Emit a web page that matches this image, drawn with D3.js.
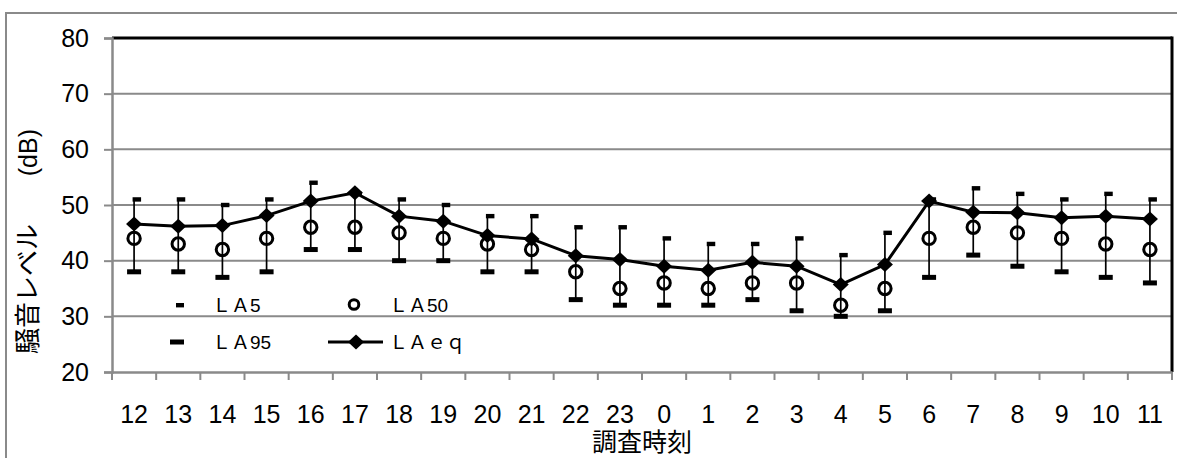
<!DOCTYPE html>
<html>
<head>
<meta charset="utf-8">
<script src="https://cdn.jsdelivr.net/npm/d3@7/dist/d3.min.js"></script>
<style>
  html, body { margin: 0; padding: 0; background: #fff; }
  svg { display: block; }
  text { font-family: "Liberation Sans", Arial, "Noto Sans CJK JP", sans-serif; fill: #000; }
</style>
</head>
<body>
<svg id="chart" width="1177" height="458"></svg>
<script>
// ---- data ----
const categories = ["12","13","14","15","16","17","18","19","20","21","22","23","0","1","2","3","4","5","6","7","8","9","10","11"];
const la5  = [51, 51, 50, 51, 54, 52, 51, 50, 48, 48, 46, 46, 44, 43, 43, 44, 41, 45, 51, 53, 52, 51, 52, 51];
const la50 = [44, 43, 42, 44, 46, 46, 45, 44, 43, 42, 38, 35, 36, 35, 36, 36, 32, 35, 44, 46, 45, 44, 43, 42];
const la95 = [38, 38, 37, 38, 42, 42, 40, 40, 38, 38, 33, 32, 32, 32, 33, 31, 30, 31, 37, 41, 39, 38, 37, 36];
const laeq = [46.6, 46.2, 46.3, 48.1, 50.7, 52.2, 48.0, 47.1, 44.5, 43.9, 40.9, 40.2, 39.0, 38.3, 39.7, 39.0, 35.7, 39.3, 50.7, 48.7, 48.6, 47.7, 48.0, 47.5];
const yTicks = [20, 30, 40, 50, 60, 70, 80];
const seriesNames = ["ＬＡ5", "ＬＡ50", "ＬＡ95", "ＬＡｅｑ"];
const xTitle = "調査時刻";
const yTitleMain = "騒音レベル";
const yTitleUnit = "(dB)";

// ---- layout ----
const svg = d3.select("#chart");
const L = 112, R = 1172, T = 38, B = 372;
const gray = "#8a8a8a";

const x = d3.scaleBand().domain(categories).range([L, R]).padding(0);
const y = d3.scaleLinear().domain([20, 80]).range([B, T]);
const cx = c => x(c) + x.bandwidth() / 2;

// outer chart border
svg.append("rect").attr("x", 6).attr("y", 13).attr("width", 1190).attr("height", 470)
  .attr("fill", "none").attr("stroke", gray).attr("stroke-width", 2);

// grid lines
svg.append("g").selectAll("line").data(yTicks.filter(v => v > 20 && v < 80)).join("line")
  .attr("x1", L).attr("x2", R).attr("y1", d => y(d)).attr("y2", d => y(d))
  .attr("stroke", gray).attr("stroke-width", 2);

// top & right frame (black)
svg.append("line").attr("x1", L).attr("x2", R).attr("y1", y(80)).attr("y2", y(80))
  .attr("stroke", "#000").attr("stroke-width", 3);
svg.append("line").attr("x1", R).attr("x2", R).attr("y1", y(80) - 1.5).attr("y2", B)
  .attr("stroke", "#000").attr("stroke-width", 3);

// y axis
const yAxis = svg.append("g").attr("transform", `translate(${L},0)`)
  .call(d3.axisLeft(y).tickValues(yTicks).tickSize(8).tickPadding(15).tickFormat(d3.format("d")));
yAxis.select(".domain").attr("stroke", gray).attr("stroke-width", 2.5);
yAxis.selectAll(".tick line").attr("stroke", gray).attr("stroke-width", 2);
yAxis.selectAll(".tick text").attr("font-size", 25).attr("font-family", "Liberation Sans, Arial, sans-serif").attr("fill", "#000");

// x axis (labels at centers, ticks at band boundaries)
const xAxis = svg.append("g").attr("transform", `translate(0,${B})`)
  .call(d3.axisBottom(x).tickSize(0).tickPadding(33));
xAxis.select(".domain").attr("stroke", gray).attr("stroke-width", 2.5);
xAxis.selectAll(".tick text").attr("font-size", 25).attr("font-family", "Liberation Sans, Arial, sans-serif").attr("fill", "#000");
const bounds = categories.map(c => x(c)).concat([R]);
svg.append("g").selectAll("line").data(bounds).join("line")
  .attr("x1", d => d).attr("x2", d => d).attr("y1", B).attr("y2", B + 8)
  .attr("stroke", gray).attr("stroke-width", 2);

// error bars (LA95 -> LA5)
svg.append("g").selectAll("line").data(categories).join("line")
  .attr("x1", (c) => cx(c)).attr("x2", (c) => cx(c))
  .attr("y1", (c, i) => y(la95[i])).attr("y2", (c, i) => y(la5[i]))
  .attr("stroke", "#000").attr("stroke-width", 1.7);

// LA95 markers (wide dash)
svg.append("g").selectAll("rect").data(categories).join("rect")
  .attr("x", c => cx(c) - 7).attr("y", (c, i) => y(la95[i]) - 2.5)
  .attr("width", 14).attr("height", 5).attr("fill", "#000");

// LA5 markers (small dash, offset right)
svg.append("g").selectAll("rect").data(categories).join("rect")
  .attr("x", c => cx(c) - 1.5).attr("y", (c, i) => y(la5[i]) - 2.2)
  .attr("width", 8.5).attr("height", 4.4).attr("fill", "#000");

// LA50 markers (open circles)
svg.append("g").selectAll("circle").data(categories).join("circle")
  .attr("cx", c => cx(c)).attr("cy", (c, i) => y(la50[i])).attr("r", 6.2)
  .attr("fill", "none").attr("stroke", "#000").attr("stroke-width", 3);

// LAeq line
const line = d3.line().x(d => cx(d.c)).y(d => y(d.v));
const eqData = categories.map((c, i) => ({ c, v: laeq[i] }));
svg.append("path").datum(eqData).attr("d", line)
  .attr("fill", "none").attr("stroke", "#000").attr("stroke-width", 3);
const diamond = (px, py) => `M${px},${py - 7.5}L${px + 8},${py}L${px},${py + 7.5}L${px - 8},${py}Z`;
svg.append("g").selectAll("path").data(eqData).join("path")
  .attr("d", d => diamond(cx(d.c), y(d.v))).attr("fill", "#000");

// ---- legend ----
const lg = svg.append("g");
const legFont = 19;
// row 1: LA5
lg.append("rect").attr("x", 176).attr("y", 303).attr("width", 8).attr("height", 4.4).attr("fill", "#000");
lg.append("text").attr("x", 212).attr("y", 312).attr("font-size", legFont).text(seriesNames[0]);
// row 1: LA50
lg.append("circle").attr("cx", 354).attr("cy", 304.5).attr("r", 4.8)
  .attr("fill", "none").attr("stroke", "#000").attr("stroke-width", 3);
lg.append("text").attr("x", 389).attr("y", 312).attr("font-size", legFont).text(seriesNames[1]);
// row 2: LA95
lg.append("rect").attr("x", 170).attr("y", 339.5).attr("width", 14).attr("height", 5).attr("fill", "#000");
lg.append("text").attr("x", 212).attr("y", 349).attr("font-size", legFont).text(seriesNames[2]);
// row 2: LAeq
lg.append("line").attr("x1", 328).attr("x2", 383).attr("y1", 342).attr("y2", 342)
  .attr("stroke", "#000").attr("stroke-width", 3);
lg.append("path").attr("d", diamond(356, 342)).attr("fill", "#000");
lg.append("text").attr("x", 389).attr("y", 349).attr("font-size", legFont).text(seriesNames[3]);

// ---- titles ----
svg.append("text").attr("x", (L + R) / 2).attr("y", 451).attr("text-anchor", "middle")
  .attr("font-size", 25).attr("font-family", "Noto Sans CJK JP, sans-serif").text(xTitle);
svg.append("text").attr("transform", `translate(37,354) rotate(-90)`)
  .attr("text-anchor", "start").attr("font-size", 26)
  .attr("font-family", "Noto Sans CJK JP, sans-serif").text(yTitleMain);
svg.append("text").attr("transform", `translate(37,129) rotate(-90)`)
  .attr("text-anchor", "end").attr("font-size", 25)
  .attr("font-family", "Liberation Sans, Arial, sans-serif").text(yTitleUnit);
</script>
</body>
</html>
